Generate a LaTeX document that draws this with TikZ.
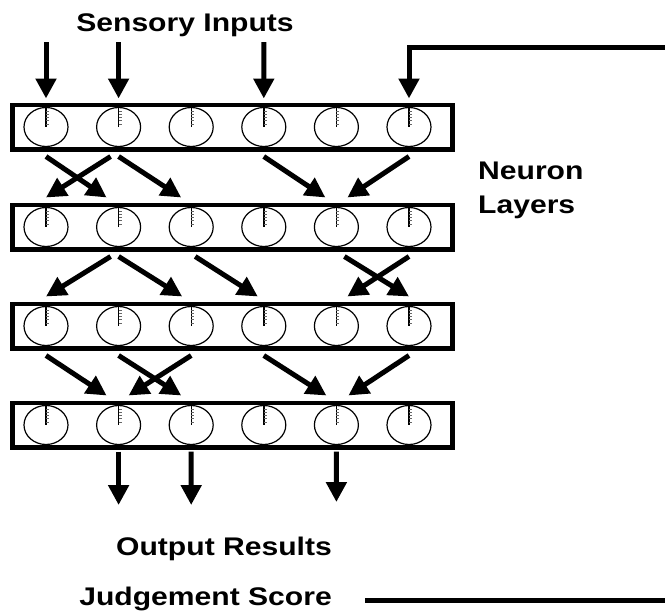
\documentclass[tikz,border=0pt]{standalone}
\usepackage{fontspec}
\setmainfont{Liberation Sans}[FakeStretch=1.18]
\usetikzlibrary{arrows.meta,shapes.geometric,calc}
\begin{document}
\begin{tikzpicture}[
                x=1pt, y=-1pt,
                layer/.style={
                    draw,
                    rectangle,
                    line width=4.5pt,
                    minimum width=440pt,
                    minimum height=44.5pt,
                    inner sep=0pt
                },
                neuron/.style={
                    ellipse,
                    draw,
                    line width=1.2pt,
                    minimum width=44pt,
                    minimum height=39pt,
                    inner sep=0pt,
                    path picture={
                        \draw[line width=1.4pt] (path picture bounding box.north) -- (path picture bounding box.center);
                        \foreach \k in {1,...,5}
                            \draw[line width=0.4pt, black!60] ($(path picture bounding box.north)!\k/6!(path picture bounding box.center)$) -- ++(3pt,0pt);
                    }
                },
                heading/.style={
                    inner sep=0pt,
                    font=\fontsize{25.5}{34}\selectfont\bfseries
                },
                arrow/.style={
                    -{Triangle[length=20pt,width=20pt]},
                    line width=5pt
                },
                plain/.style={
                    line width=5pt
                }
            ]
    \useasboundingbox (0,0) rectangle (665,613);

    \foreach \l/\y in {1/127,2/227,3/326,4/425} {
        \node[layer] (layer\l) at (232.5,\y) {};
        \foreach \i in {1,...,6}
            \node[neuron] (n\l\i) at ({46+72.6*(\i-1)},\y) {};
    }

    \node[heading, anchor=base] (inputs) at (185,31) {Sensory Inputs};
    \node[heading, anchor=west, align=left] (layers) at (478,190) {Neuron\\Layers};
    \node[heading, anchor=base] (outputs) at (224,555) {Output Results};
    \node[heading, anchor=base east] (judge) at (332,605) {Judgement Score};

    \coordinate (in1) at (46,42);
    \coordinate (in2) at (118.6,42);
    \coordinate (in4) at (263.8,42);
    \coordinate (fb) at (665,47);
    \coordinate (out2) at (118.6,505);
    \coordinate (out3) at (191.2,505);
    \coordinate (out5) at (336.4,502);
    \coordinate (jend) at (665,600);

    \draw[arrow] (in1) -- ([yshift=4pt]n11 |- layer1.north);
    \draw[arrow] (in2) -- ([yshift=4pt]n12 |- layer1.north);
    \draw[arrow] (in4) -- ([yshift=4pt]n14 |- layer1.north);
    \draw[arrow] (fb) -| ([yshift=4pt]n16 |- layer1.north);

    \draw[arrow] ([yshift=-5pt]n11 |- layer1.south) -- ([xshift=-12pt,yshift=5pt]n22 |- layer2.north);
    \draw[arrow] ([xshift=-8pt,yshift=-5pt]n12 |- layer1.south) -- ([yshift=5pt]n21 |- layer2.north);
    \draw[arrow] ([yshift=-5pt]n12 |- layer1.south) -- ([xshift=-10pt,yshift=5pt]n23 |- layer2.north);
    \draw[arrow] ([yshift=-5pt]n14 |- layer1.south) -- ([xshift=-11pt,yshift=5pt]n25 |- layer2.north);
    \draw[arrow] ([yshift=-5pt]n16 |- layer1.south) -- ([xshift=11pt,yshift=5pt]n25 |- layer2.north);

    \draw[arrow] ([xshift=-8pt,yshift=-5pt]n22 |- layer2.south) -- ([yshift=5pt]n31 |- layer3.north);
    \draw[arrow] ([yshift=-5pt]n22 |- layer2.south) -- ([xshift=-9pt,yshift=5pt]n33 |- layer3.north);
    \draw[arrow] ([xshift=4pt,yshift=-5pt]n23 |- layer2.south) -- ([xshift=-6pt,yshift=5pt]n34 |- layer3.north);
    \draw[arrow] ([xshift=8pt,yshift=-5pt]n25 |- layer2.south) -- ([yshift=5pt]n36 |- layer3.north);
    \draw[arrow] ([yshift=-5pt]n26 |- layer2.south) -- ([xshift=11pt,yshift=5pt]n35 |- layer3.north);

    \draw[arrow] ([yshift=-5pt]n31 |- layer3.south) -- ([xshift=-12pt,yshift=5pt]n42 |- layer4.north);
    \draw[arrow] ([yshift=-5pt]n32 |- layer3.south) -- ([xshift=-10pt,yshift=5pt]n43 |- layer4.north);
    \draw[arrow] ([yshift=-5pt]n33 |- layer3.south) -- ([xshift=10pt,yshift=5pt]n42 |- layer4.north);
    \draw[arrow] ([yshift=-5pt]n34 |- layer3.south) -- ([xshift=-10pt,yshift=5pt]n45 |- layer4.north);
    \draw[arrow] ([yshift=-5pt]n36 |- layer3.south) -- ([xshift=12pt,yshift=5pt]n45 |- layer4.north);

    \draw[arrow] ([yshift=-2pt]n42 |- layer4.south) -- (out2);
    \draw[arrow] ([yshift=-2pt]n43 |- layer4.south) -- (out3);
    \draw[arrow] ([yshift=-2pt]n45 |- layer4.south) -- (out5);

    \draw[plain] ([xshift=33pt]judge.east |- jend) -- (jend);
\end{tikzpicture}
\end{document}
